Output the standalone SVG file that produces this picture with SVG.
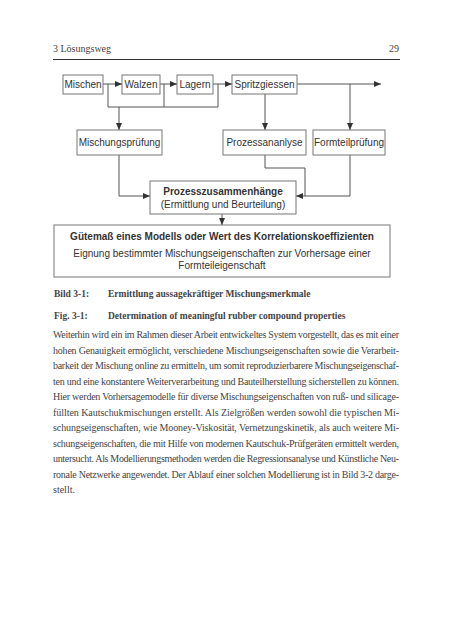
<svg xmlns="http://www.w3.org/2000/svg" width="452" height="640" viewBox="0 0 452 640">
<style>
.box{fill:#fff;stroke:#777;stroke-width:1}
.lbl{font-family:"Liberation Sans",Arial,sans-serif;font-size:10px;fill:#333;text-anchor:middle}
.b{font-weight:bold}
.con{fill:none;stroke:#555;stroke-width:1}
.ser{font-family:"Liberation Serif","Times New Roman",serif;font-size:10px;fill:#444}
.cap{font-family:"Liberation Serif","Times New Roman",serif;font-size:9.5px;font-weight:bold;fill:#444}
</style>
<defs>
<marker id="ah" markerUnits="userSpaceOnUse" markerWidth="8" markerHeight="8" refX="7" refY="4" orient="auto">
<path d="M0,1 L7,4 L0,7 Z" fill="#333"/>
</marker>
</defs>
<rect width="452" height="640" fill="#fff"/>
<g id="header">
<text class="ser" x="53" y="52" fill="#555">3 Lösungsweg</text>
<text class="ser" x="399" y="52" text-anchor="end">29</text>
<line x1="53" y1="59.5" x2="400" y2="59.5" stroke="#333" stroke-width="1"/>
</g>
<g id="connectors">
<path class="con" d="M103,84 H122" marker-end="url(#ah)"/>
<path class="con" d="M160,84 H177" marker-end="url(#ah)"/>
<path class="con" d="M213,84 H232" marker-end="url(#ah)"/>
<path class="con" d="M297,84 H381" marker-end="url(#ah)"/>
<path class="con" d="M350,84 V130" marker-end="url(#ah)"/>
<path class="con" d="M265,94 V130" marker-end="url(#ah)"/>
<path class="con" d="M108,84 V107 H218 V84 M164,84 V107"/>
<path class="con" d="M119,107 V130" marker-end="url(#ah)"/>
<path class="con" d="M119,155 V196 H150" marker-end="url(#ah)"/>
<path class="con" d="M265,155 V168 H305 V196"/>
<path class="con" d="M350,155 V196 H296" marker-end="url(#ah)"/>
<path class="con" d="M222,214 V225" marker-end="url(#ah)"/>
</g>
<g id="mischen"><rect class="box" x="63" y="75" width="40" height="19"/><text class="lbl" x="83" y="88">Mischen</text></g>
<g id="walzen"><rect class="box" x="122" y="75" width="38" height="19"/><text class="lbl" x="141" y="88">Walzen</text></g>
<g id="lagern"><rect class="box" x="177" y="75" width="36" height="19"/><text class="lbl" x="195" y="88">Lagern</text></g>
<g id="spritzgiessen"><rect class="box" x="232" y="75" width="65" height="19"/><text class="lbl" x="264.5" y="88">Spritzgiessen</text></g>
<g id="mischungspruefung"><rect class="box" x="77" y="130" width="85" height="25"/><text class="lbl" x="119.5" y="146">Mischungsprüfung</text></g>
<g id="prozessanalyse"><rect class="box" x="223" y="130" width="83" height="25"/><text class="lbl" x="264.5" y="146">Prozessananlyse</text></g>
<g id="formteilpruefung"><rect class="box" x="313" y="130" width="72" height="25"/><text class="lbl" x="349" y="146">Formteilprüfung</text></g>
<g id="prozesszusammenhaenge"><rect class="box" x="150" y="181" width="146" height="33"/>
<text class="lbl b" x="223" y="195" font-size="9.8">Prozesszusammenhänge</text>
<text class="lbl" x="223" y="208">(Ermittlung und Beurteilung)</text></g>
<g id="guetemass"><rect class="box" x="54" y="225" width="336" height="52"/>
<text class="lbl b" x="222" y="240" font-size="8.6">Gütemaß eines Modells oder Wert des Korrelationskoeffizienten</text>
<text class="lbl" x="222" y="257" font-size="9.1">Eignung bestimmter Mischungseigenschaften zur Vorhersage einer</text>
<text class="lbl" x="222" y="269" font-size="9.1">Formteileigenschaft</text></g>
<g id="caption">
<text class="cap" x="54" y="297">Bild 3-1:</text>
<text class="cap" x="108" y="297">Ermittlung aussagekräftiger Mischungsmerkmale</text>
<text class="cap" x="54" y="319">Fig. 3-1:</text>
<text class="cap" x="108" y="319">Determination of meaningful rubber compound properties</text>
</g>
<g id="body" class="ser">
<text x="53" y="338" textLength="346" lengthAdjust="spacing">Weiterhin wird ein im Rahmen dieser Arbeit entwickeltes System vorgestellt, das es mit einer</text>
<text x="53" y="353.5" textLength="346" lengthAdjust="spacing">hohen Genauigkeit ermöglicht, verschiedene Mischungseigenschaften sowie die Verarbeit-</text>
<text x="53" y="369" textLength="346" lengthAdjust="spacing">barkeit der Mischung online zu ermitteln, um somit reproduzierbarere Mischungseigenschaf-</text>
<text x="53" y="384.5" textLength="346" lengthAdjust="spacing">ten und eine konstantere Weiterverarbeitung und Bauteilherstellung sicherstellen zu können.</text>
<text x="53" y="400" textLength="346" lengthAdjust="spacing">Hier werden Vorhersagemodelle für diverse Mischungseigenschaften von ruß- und silicage-</text>
<text x="53" y="415.5" textLength="346" lengthAdjust="spacing">füllten Kautschukmischungen erstellt. Als Zielgrößen werden sowohl die typischen Mi-</text>
<text x="53" y="431" textLength="346" lengthAdjust="spacing">schungseigenschaften, wie Mooney-Viskosität, Vernetzungskinetik, als auch weitere Mi-</text>
<text x="53" y="446.5" textLength="346" lengthAdjust="spacing">schungseigenschaften, die mit Hilfe von modernen Kautschuk-Prüfgeräten ermittelt werden,</text>
<text x="53" y="462" textLength="346" lengthAdjust="spacing">untersucht. Als Modellierungsmethoden werden die Regressionsanalyse und Künstliche Neu-</text>
<text x="53" y="477.5" textLength="346" lengthAdjust="spacing">ronale Netzwerke angewendet. Der Ablauf einer solchen Modellierung ist in Bild 3-2 darge-</text>
<text x="53" y="493">stellt.</text>
</g>
</svg>
